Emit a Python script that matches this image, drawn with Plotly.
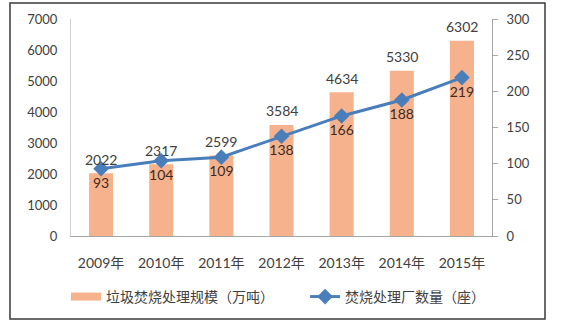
import plotly.graph_objects as go

# Waste incineration in China, 2009-2015
years = ["2009年", "2010年", "2011年", "2012年", "2013年", "2014年", "2015年"]
capacity = [2022, 2317, 2599, 3584, 4634, 5330, 6302]   # 垃圾焚烧处理规模（万吨）
plants = [93, 104, 109, 138, 166, 188, 219]             # 焚烧处理厂数量（座）

left_ticks = [0, 1000, 2000, 3000, 4000, 5000, 6000, 7000]
right_ticks = [0, 50, 100, 150, 200, 250, 300]

bar_color = "#F5B28C"
line_color = "#4A7EBB"
text_color = "#404040"
font_family = "Lato, 'Noto Sans CJK SC', sans-serif"

fig = go.Figure()

fig.add_trace(go.Bar(
    x=years, y=capacity,
    marker=dict(color=bar_color, line=dict(width=0)),
    width=0.4,
    showlegend=False,
    name="垃圾焚烧处理规模（万吨）",
))

# legend entry for the bars drawn as a wide swatch
fig.add_trace(go.Scatter(
    x=[None], y=[None], mode="lines",
    line=dict(color=bar_color, width=8),
    name="垃圾焚烧处理规模（万吨）",
    legend="legend",
))

fig.add_trace(go.Scatter(
    x=years, y=plants, yaxis="y2",
    mode="lines+markers+text",
    line=dict(color=line_color, width=3),
    marker=dict(symbol="diamond", size=12, color=line_color),
    text=plants, textposition="bottom center",
    textfont=dict(size=14, color="#3E2A1E"),
    cliponaxis=False,
    name="焚烧处理厂数量（座）",
    legend="legend2",
))

# value labels above each bar
for yr, val in zip(years, capacity):
    fig.add_annotation(
        x=yr, y=val, xref="x", yref="y",
        text=str(val), showarrow=False,
        yanchor="middle", yshift=14,
        font=dict(size=14, color=text_color),
    )

legend_style = dict(
    orientation="h",
    yanchor="middle", y=-0.281,
    xanchor="left",
    itemwidth=30,
    font=dict(size=14, color=text_color),
    bgcolor="rgba(0,0,0,0)",
)

fig.update_layout(
    width=561, height=330,
    margin=dict(l=71, r=69, t=19, b=94),
    paper_bgcolor="white", plot_bgcolor="white",
    font=dict(family=font_family, size=13, color=text_color),
    xaxis=dict(
        showline=True, linecolor="#A6A6A6", linewidth=1,
        ticks="", ticklabelstandoff=14,
        tickfont=dict(size=14, color=text_color),
        showgrid=False, zeroline=False,
    ),
    yaxis=dict(
        range=[0, 7000], tickvals=left_ticks,
        showline=True, linecolor="#D0D0D0", linewidth=1,
        ticks="", ticklabelstandoff=10,
        showgrid=False, zeroline=False,
        tickfont=dict(size=13, color=text_color),
    ),
    yaxis2=dict(
        range=[0, 300], tickvals=right_ticks,
        overlaying="y", side="right",
        showline=True, linecolor="#A6A6A6", linewidth=1,
        ticks="outside", ticklen=5, tickcolor="#A6A6A6",
        ticklabelstandoff=6,
        showgrid=False, zeroline=False,
        tickfont=dict(size=13, color=text_color),
    ),
    legend=dict(legend_style, x=-0.012),
    legend2=dict(legend_style, x=0.556),
    shapes=[dict(
        type="rect", xref="paper", yref="paper",
        x0=-0.1449, x1=1.1259, y0=-0.3825, y1=1.0737,
        line=dict(color="#3A3A3A", width=1.5),
        fillcolor="rgba(0,0,0,0)", layer="below",
    )],
)

fig.write_html("out.html")
